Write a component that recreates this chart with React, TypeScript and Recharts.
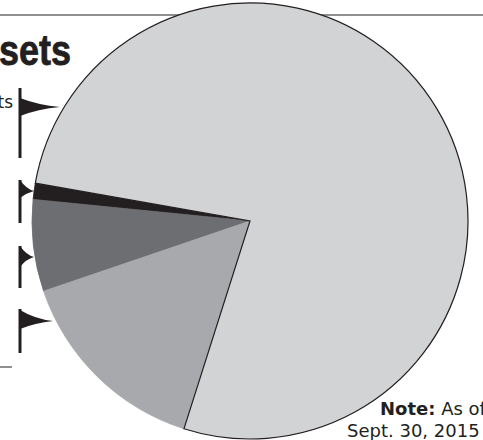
import { PieChart, Pie, Cell } from 'recharts'

// Shares of total, in the order the wedges are drawn (counterclockwise from 170°)
const categories = ['Black', 'Dark', 'Medium', 'Light']
const shares = [1.2, 6.8, 14.9, 77.2]
const fills = ['#231f20', '#6d6e71', '#a7a9ac', '#d1d3d4']
const strokes = ['#231f20', '#6d6e71', '#a7a9ac', '#231f20']

const headline = 'sets'
const sideLabel = 'ts'
const noteBold = 'Note:'
const noteRest = ' As of'
const noteDate = 'Sept. 30, 2015'

const chartData = categories.map((name, i) => ({ name, value: shares[i] }))

// pennant markers: pole top/bottom, flag top/bottom, tip
const flags = [
  { top: 88, bottom: 158, fTop: 98, fBot: 116, tipX: 60, tipY: 107 },
  { top: 180, bottom: 223, fTop: 180, fBot: 198, tipX: 34, tipY: 191 },
  { top: 246, bottom: 288, fTop: 246, fBot: 267, tipX: 34, tipY: 257 },
  { top: 309, bottom: 353, fTop: 310, fBot: 329, tipX: 53, tipY: 321 },
]

const POLE_X = 20

function Flag({ f }: { f: (typeof flags)[number] }) {
  const midX = POLE_X + (f.tipX - POLE_X) * 0.45
  const d = `M ${POLE_X} ${f.fTop} Q ${midX} ${f.tipY - 2} ${f.tipX} ${f.tipY} Q ${midX} ${f.tipY + 2} ${POLE_X} ${f.fBot} Z`
  return (
    <g>
      <line x1={POLE_X} x2={POLE_X} y1={f.top} y2={f.bottom} stroke="#231f20" strokeWidth={3} />
      <path d={d} fill="#231f20" />
    </g>
  )
}

export default function App() {
  return (
    <div
      style={{
        position: 'absolute',
        left: 0,
        top: 0,
        width: 483,
        height: 440,
        overflow: 'hidden',
        background: '#fff',
      }}
    >
      <svg width={483} height={440} style={{ position: 'absolute', left: 0, top: 0 }}>
        <line x1={0} x2={483} y1={15} y2={15} stroke="#231f20" strokeWidth={1.2} />
        <text
          x={71}
          y={65}
          textAnchor="end"
          fontFamily="'Liberation Sans', Arial, sans-serif"
          fontWeight="bold"
          fontSize={42}
          textLength={72}
          lengthAdjust="spacingAndGlyphs"
          fill="#231f20"
          stroke="#231f20"
          strokeWidth={0.8}
        >
          {headline}
        </text>
        <text
          x={13}
          y={108}
          textAnchor="end"
          fontFamily="'DejaVu Sans', sans-serif"
          fontSize={17}
          fill="#231f20"
        >
          {sideLabel}
        </text>
        {flags.map((f, i) => (
          <Flag key={i} f={f} />
        ))}
        <line x1={0} x2={12} y1={367} y2={367} stroke="#231f20" strokeWidth={1} />
        <text x={380} y={415} fontFamily="'DejaVu Sans', sans-serif" fontSize={18} fill="#231f20">
          <tspan fontWeight="bold">{noteBold}</tspan>
          <tspan>{noteRest}</tspan>
        </text>
        <text x={347} y={437} fontFamily="'DejaVu Sans', sans-serif" fontSize={18} fill="#231f20">
          {noteDate}
        </text>
      </svg>
      <div style={{ position: 'absolute', left: 0, top: 0 }}>
        <PieChart width={483} height={440} margin={{ top: 0, right: 0, bottom: 0, left: 0 }}>
          <Pie
            data={chartData}
            dataKey="value"
            nameKey="name"
            cx={250}
            cy={221}
            innerRadius={0}
            outerRadius={218}
            startAngle={170}
            endAngle={530}
            isAnimationActive={false}
            label={false}
            labelLine={false}
          >
            {chartData.map((d, i) => (
              <Cell key={d.name} fill={fills[i]} stroke={strokes[i]} strokeWidth={i === 3 ? 1.2 : 0.8} />
            ))}
          </Pie>
        </PieChart>
      </div>
    </div>
  )
}
